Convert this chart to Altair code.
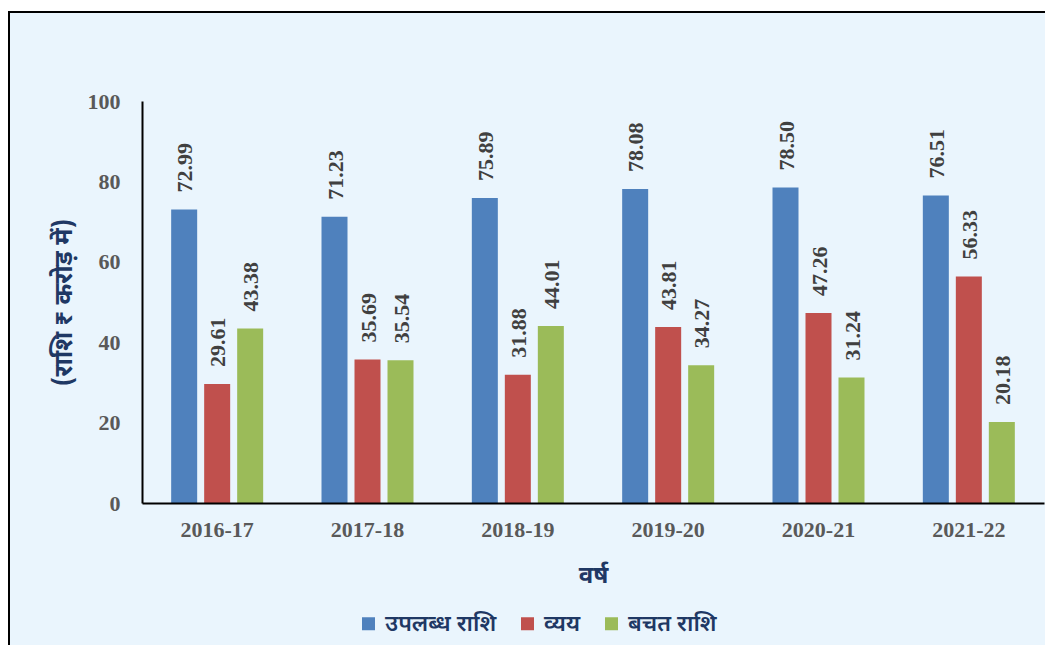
import altair as alt
import pandas as pd

years = ["2016-17", "2017-18", "2018-19", "2019-20", "2020-21", "2021-22"]
series = ["उपलब्ध राशि", "व्यय", "बचत राशि"]
available = [72.99, 71.23, 75.89, 78.08, 78.50, 76.51]
expense = [29.61, 35.69, 31.88, 43.81, 47.26, 56.33]
savings = [43.38, 35.54, 44.01, 34.27, 31.24, 20.18]
colors = ["#4F81BD", "#C0504D", "#9BBB59"]

rows = []
for i, y in enumerate(years):
    for s, vals in zip(series, [available, expense, savings]):
        rows.append({"year": y, "series": s, "value": vals[i]})
df = pd.DataFrame(rows)

DEV = "Noto Sans Devanagari, Noto Sans, Lohit Devanagari, sans-serif"
SERIF = "Liberation Serif, Times New Roman, serif"
NAVY = "#1F3864"

frame = alt.Chart(pd.DataFrame({"a": [0]})).mark_rect(
    fill="#EAF5FD", stroke="black", strokeWidth=2
).encode(
    x=alt.value(-133), x2=alt.value(930), y=alt.value(-89), y2=alt.value(720)
)

xenc = alt.X(
    "year:N", sort=years,
    scale=alt.Scale(paddingInner=0.388, paddingOuter=0.194),
    axis=alt.Axis(
        title="वर्ष", titleFont=DEV, titleFontSize=24, titleFontWeight="bold",
        titleColor=NAVY, titlePadding=23,
        labelFont=SERIF, labelFontSize=22, labelFontWeight="bold",
        labelColor="#595959", labelPadding=16, labelAngle=0,
        ticks=False, domainColor="black", domainWidth=2, zindex=1,
    ),
)
yenc = alt.Y(
    "value:Q",
    scale=alt.Scale(domain=[0, 100], nice=False),
    axis=alt.Axis(
        title="(राशि ₹ करोड़ में)", titleFont=DEV, titleFontSize=25,
        titleFontWeight="bold", titleColor=NAVY, titlePadding=11,
        labelFont=SERIF, labelFontSize=22, labelFontWeight="bold",
        labelColor="#595959", labelPadding=22,
        values=[0, 20, 40, 60, 80, 100], grid=False, ticks=False,
        domainColor="black", domainWidth=2, zindex=1,
    ),
)
xoff = alt.XOffset("series:N", sort=series,
                   scale=alt.Scale(paddingInner=0.212, paddingOuter=0))

bars = alt.Chart(df).mark_bar().encode(
    x=xenc, y=yenc, xOffset=xoff,
    color=alt.Color(
        "series:N", sort=series,
        scale=alt.Scale(domain=series, range=colors),
        legend=alt.Legend(
            title=None, orient="none", legendX=215, legendY=511,
            direction="horizontal", symbolType="square", symbolSize=169,
            symbolStrokeWidth=0, labelFont=DEV, labelFontSize=23,
            labelColor=NAVY, labelFontWeight=600, columnPadding=19,
            labelOffset=5, zindex=1,
        ),
    ),
)

labels = alt.Chart(df).mark_text(
    angle=270, align="left", baseline="middle", dx=17, dy=1,
    font=SERIF, fontSize=22, fontWeight="bold", color="#404040",
).encode(
    x=alt.X("year:N", sort=years), y="value:Q", xOffset=alt.XOffset("series:N", sort=series),
    text=alt.Text("value:Q", format=".2f"),
)

chart = alt.layer(frame, bars, labels).properties(
    width=902, height=402,
    padding={"left": 134, "top": 93, "right": 1, "bottom": 142},
    autosize=alt.AutoSizeParams(type="none"),
    background="white",
).configure_view(stroke=None)

chart.save("out.html", embed_options={"renderer": "svg", "actions": False})
